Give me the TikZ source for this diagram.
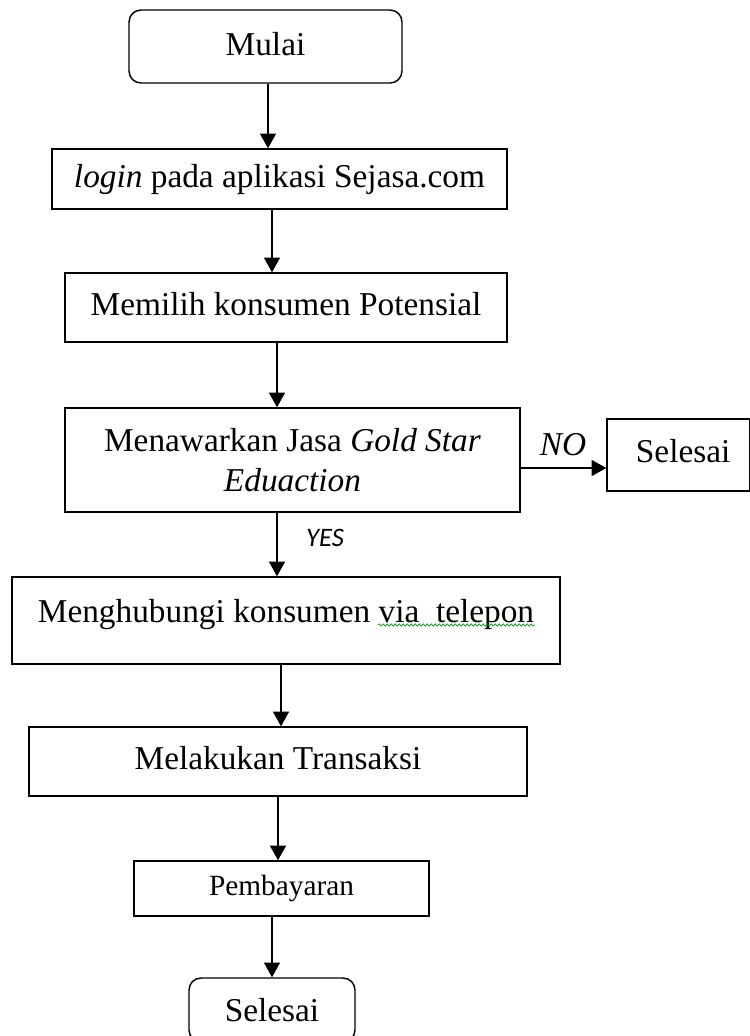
\documentclass[tikz,border=0pt]{standalone}
\usepackage{fontspec}
\setmainfont{Liberation Serif}
\newfontfamily\calibrifont{Carlito}
\usetikzlibrary{arrows.meta,decorations.pathmorphing}
\begin{document}
\begin{tikzpicture}[x=0.75pt,y=-0.75pt,
  box/.style={draw=black,line width=1.1pt,inner sep=0pt,align=center,
    font=\fontsize{25}{30}\selectfont},
  roundbox/.style={box,rounded corners=9pt},
  arr/.style={line width=1.1pt,-{Triangle[length=11pt,width=12pt]}},
  lbl/.style={inner sep=0pt,font=\fontsize{25}{30}\selectfont\itshape}]
\useasboundingbox (0,0) rectangle (750,1036);
\begin{scope}
\clip (0,0) rectangle (750,1036);
\node[roundbox,minimum width=273*0.75pt,minimum height=73*0.75pt] (mulai) at (265.5,46.5) {\raisebox{4pt}{Mulai}};
\node[box,minimum width=455*0.75pt,minimum height=60*0.75pt] (login) at (279.5,179) {\raisebox{1.5pt}{\textit{login} pada aplikasi Sejasa.com}};
\node[box,minimum width=442*0.75pt,minimum height=69*0.75pt] (memilih) at (286,307.5) {\raisebox{5.5pt}{Memilih konsumen Potensial}};
\node[box,minimum width=455*0.75pt,minimum height=104*0.75pt] (tawar) at (292.5,460) {Menawarkan Jasa \textit{Gold Star}\\\textit{Eduaction}};
\node[box,minimum width=143*0.75pt,minimum height=72*0.75pt] (selesaiA) at (678.5,455) {\hspace*{7pt}\raisebox{6pt}{Selesai}};
\node[box,minimum width=548*0.75pt,minimum height=87*0.75pt] (hubungi) at (286,620.5) {\raisebox{14pt}{Menghubungi konsumen via\ \ telepon}};
\node[box,minimum width=498*0.75pt,minimum height=69*0.75pt] (transaksi) at (278,761.5) {\raisebox{5pt}{Melakukan\ Transaksi}};
\node[box,minimum width=295*0.75pt,minimum height=55*0.75pt,font=\fontsize{22}{26}\selectfont] (bayar) at (281.5,888.5) {Pembayaran};
\node[roundbox,minimum width=166*0.75pt,minimum height=64*0.75pt] (selesaiB) at (272,1010) {Selesai};
\end{scope}
\draw[arr] (268,0 |- mulai.south) -- (268,0 |- login.north);
\draw[arr] (272,0 |- login.south) -- (272,0 |- memilih.north);
\draw[arr] (277,0 |- memilih.south) -- (277,0 |- tawar.north);
\draw[arr] (277,0 |- tawar.south) -- (277,0 |- hubungi.north);
\draw[arr] (tawar.east |- 0,468) -- (selesaiA.west |- 0,468);
\draw[arr] (281,0 |- hubungi.south) -- (281,0 |- transaksi.north);
\draw[arr] (278,0 |- transaksi.south) -- (278,0 |- bayar.north);
\draw[arr] (272,0 |- bayar.south) -- (272,0 |- selesaiB.north);
\node[lbl] (nolbl) at (563,445) {NO};
\node[inner sep=0pt,font=\fontsize{20}{24}\selectfont\calibrifont\itshape] (yeslbl) at (325,538) {YES};
\draw[green!60!black,line width=0.5pt,decorate,decoration={snake,amplitude=0.9pt,segment length=3pt}] (378,625) -- (535,625);
\end{tikzpicture}
\end{document}
